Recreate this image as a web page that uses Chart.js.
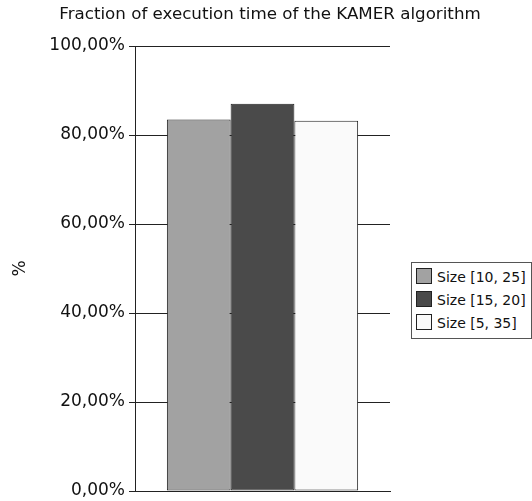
<!DOCTYPE html>
<html>
<head>
<meta charset="utf-8">
<script src="https://cdn.jsdelivr.net/npm/chart.js@4.4.1/dist/chart.umd.min.js"></script>
<style>
  html, body { margin: 0; padding: 0; background: #fff; }
  #wrap { position: relative; width: 532px; height: 501px; }
  #legend {
    position: absolute; left: 411px; top: 262px; width: 119px;
    border: 1px solid #555; background: #fff; padding: 3px 0 3px 0;
    font-family: "DejaVu Sans", sans-serif; font-size: 14px; color: #111;
  }
  #legend div { height: 23px; line-height: 23px; padding-left: 4px; white-space: nowrap; }
  #legend span {
    display: inline-block; width: 14px; height: 14px; border: 1px solid #222;
    vertical-align: -2px; margin-right: 5px;
  }
</style>
</head>
<body>
<div id="wrap">
  <canvas id="chart" width="532" height="501"></canvas>
  <div id="legend"></div>
</div>
<script>
// Data
const categories = [""];
const seriesNames = ["Size [10, 25]", "Size [15, 20]", "Size [5, 35]"];
const seriesValues = [[83.5], [87.0], [83.2]];
const seriesColors = ["#a2a2a2", "#4a4a4a", "#fafafa"];
const yTicks = [0, 20, 40, 60, 80, 100];
const chartTitle = "Fraction of execution time of the KAMER algorithm";

const datasets = seriesNames.map((name, i) => ({
  label: name,
  data: seriesValues[i],
  backgroundColor: seriesColors[i],
  borderColor: "#222",
  borderWidth: 1,
  borderSkipped: false,
  categoryPercentage: 0.75,
  barPercentage: 1.0
}));

// title centred on the whole canvas, not only the chart box
const titlePlugin = {
  id: "pageTitle",
  afterDraw(c) {
    const ctx = c.ctx;
    ctx.save();
    ctx.font = "16.7px 'DejaVu Sans'";
    ctx.fillStyle = "#111";
    ctx.textAlign = "center";
    ctx.textBaseline = "middle";
    ctx.fillText(chartTitle, 270, 15);
    ctx.restore();
  }
};

const chart = new Chart(document.getElementById("chart"), {
  type: "bar",
  data: { labels: categories, datasets: datasets },
  plugins: [titlePlugin],
  options: {
    responsive: false,
    animation: false,
    layout: { padding: { left: 0, right: 142, top: 46, bottom: 0 } },
    plugins: {
      legend: { display: false },
      tooltip: { enabled: false }
    },
    scales: {
      x: {
        grid: { display: false },
        border: { display: true, color: "#222" },
        ticks: { display: false },
        afterFit: s => { s.height = 10; }
      },
      y: {
        min: 0,
        max: 100,
        afterBuildTicks: s => { s.ticks = yTicks.map(v => ({ value: v })); },
        ticks: {
          color: "#111",
          font: { family: "DejaVu Sans", size: 17, lineHeight: 0.7 },
          padding: 4,
          callback: v => v.toFixed(2).replace(".", ",") + "%"
        },
        grid: { color: "#222", tickLength: 6, lineWidth: 1 },
        border: { display: true, color: "#222" },
        title: {
          display: true,
          text: "%",
          color: "#111",
          font: { family: "DejaVu Sans", size: 17 },
          padding: { top: 10, bottom: 0 }
        },
        afterFit: s => { s.width = 135; }
      }
    }
  }
});

// HTML legend from the datasets
const legend = document.getElementById("legend");
seriesNames.forEach((name, i) => {
  const row = document.createElement("div");
  row.innerHTML = `<span style="background:${seriesColors[i]}"></span>${name}`;
  legend.appendChild(row);
});
</script>
</body>
</html>
